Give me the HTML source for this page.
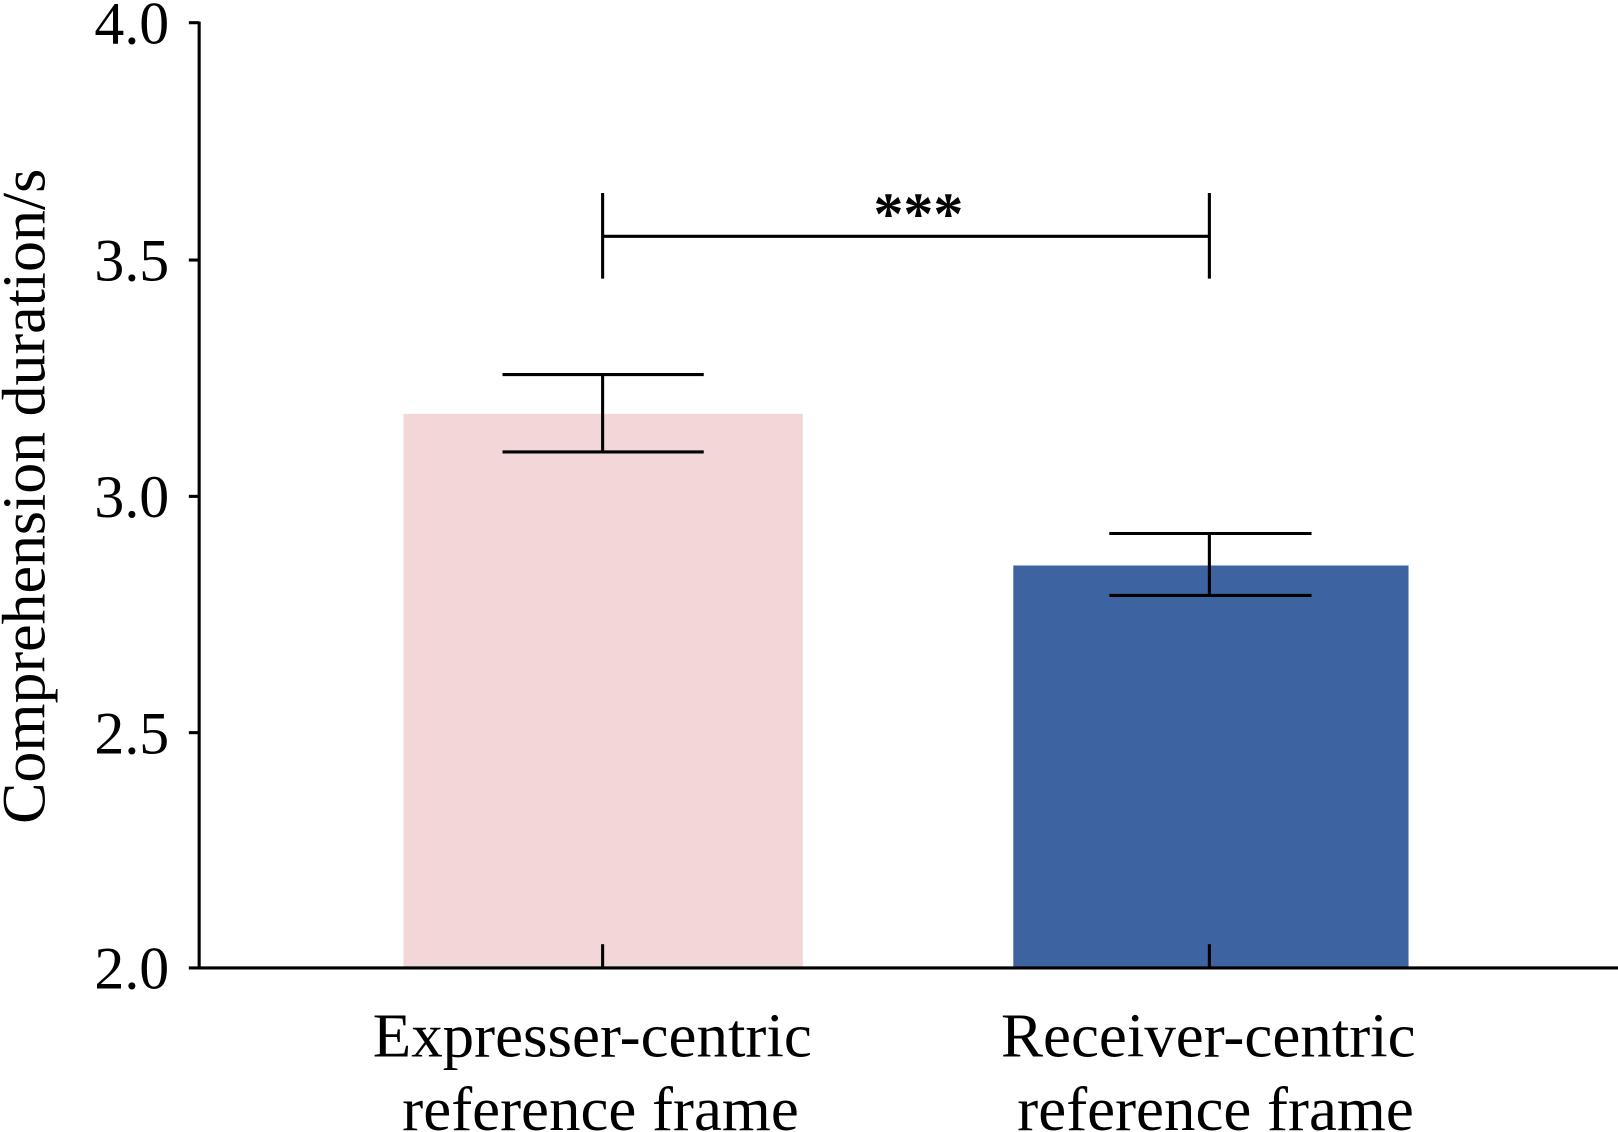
<!DOCTYPE html>
<html><head><style>html,body{margin:0;padding:0;background:#fff}svg{display:block}</style></head>
<body>
<svg width="1618" height="1132" viewBox="0 0 1568 1097" preserveAspectRatio="none" xmlns="http://www.w3.org/2000/svg" font-family="Liberation Serif, serif">
<rect x="391" y="401" width="387" height="537" fill="#f3d6d7"/>
<rect x="982" y="548" width="383" height="390" fill="#3d64a0"/>
<g stroke="#000" stroke-width="3" fill="none">
<line x1="193" y1="21" x2="193" y2="939.5"/>
<line x1="191.5" y1="938" x2="1568" y2="938"/>
<line x1="183" y1="22" x2="193" y2="22"/>
<line x1="183" y1="252" x2="193" y2="252"/>
<line x1="183" y1="481" x2="193" y2="481"/>
<line x1="183" y1="710" x2="193" y2="710"/>
<line x1="183" y1="938" x2="193" y2="938"/>
<line x1="584" y1="915" x2="584" y2="938"/>
<line x1="1172" y1="915" x2="1172" y2="938"/>
<line x1="584" y1="363" x2="584" y2="438"/>
<line x1="487" y1="363" x2="682" y2="363"/>
<line x1="487" y1="438" x2="682" y2="438"/>
<line x1="1172" y1="517" x2="1172" y2="577"/>
<line x1="1075" y1="517" x2="1271" y2="517"/>
<line x1="1075" y1="577" x2="1271" y2="577"/>
<line x1="584" y1="229" x2="1172" y2="229"/>
<line x1="584" y1="187" x2="584" y2="270"/>
<line x1="1172" y1="187" x2="1172" y2="270"/>
</g>
<g font-size="58" text-anchor="end" fill="#000">
<text x="164" y="42">4.0</text>
<text x="164" y="272">3.5</text>
<text x="164" y="501">3.0</text>
<text x="164" y="730">2.5</text>
<text x="164" y="958">2.0</text>
</g>
<text x="890" y="227" font-size="58" font-weight="bold" text-anchor="middle">***</text>
<g font-size="61" text-anchor="middle">
<text x="574" y="1024">Expresser-centric</text>
<text x="582" y="1095">reference frame</text>
<text x="1171" y="1024">Receiver-centric</text>
<text x="1178" y="1095">reference frame</text>
</g>
<text transform="translate(43,481) rotate(-90)" font-size="60" text-anchor="middle">Comprehension duration/s</text>
</svg>
</body></html>
